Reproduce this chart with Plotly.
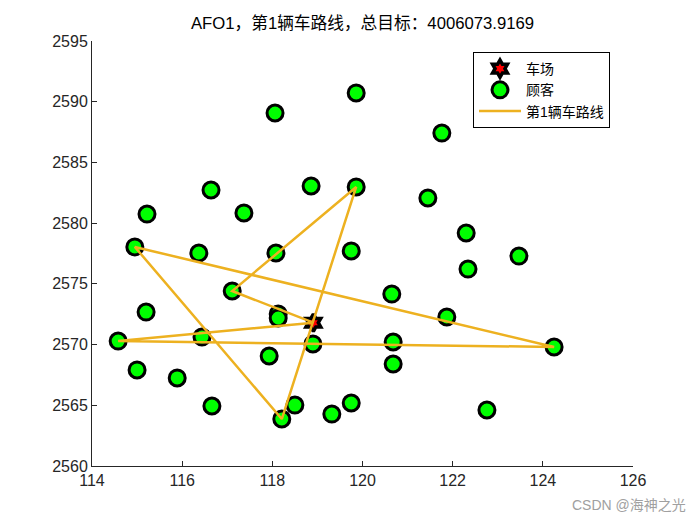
import plotly.graph_objects as go

# Customer coordinates
cust_x = [118.06, 119.86, 121.76, 116.64, 118.86, 119.86, 121.45, 115.22, 117.37, 122.30,
          114.95, 116.37, 118.08, 119.75, 123.47, 122.34, 117.11, 120.65, 115.20, 118.13,
          118.13, 121.87, 114.58, 116.44, 118.90, 120.68, 124.25, 117.93, 120.68, 115.00,
          115.89, 116.66, 118.21, 118.50, 119.32, 119.75, 122.76]
cust_y = [2589.07, 2590.72, 2587.42, 2582.73, 2583.06, 2582.98, 2582.07, 2580.75, 2580.84, 2579.19,
          2578.04, 2577.54, 2577.54, 2577.71, 2577.29, 2576.22, 2574.41, 2574.16, 2572.68, 2572.52,
          2572.19, 2572.27, 2570.29, 2570.62, 2570.05, 2570.21, 2569.80, 2569.06, 2568.40, 2567.91,
          2567.25, 2564.94, 2563.87, 2565.02, 2564.28, 2565.19, 2564.61]

# Depot
depot_x = [118.91]
depot_y = [2571.80]

# Route as customer indices (0-based), starting and ending at depot
route_idx = [16, 5, 32, 10, 26, 22]

route_x = depot_x + [cust_x[i] for i in route_idx] + depot_x
route_y = depot_y + [cust_y[i] for i in route_idx] + depot_y

x_ticks = [114, 116, 118, 120, 122, 124, 126]
y_ticks = [2560, 2565, 2570, 2575, 2580, 2585, 2590, 2595]

FONT = "Liberation Sans, Arial, Noto Sans CJK SC, sans-serif"
AX = "#262626"

fig = go.Figure()
fig.add_trace(go.Scatter(
    x=depot_x, y=depot_y, mode="markers", name="车场",
    marker=dict(symbol="hexagram", size=13, color="red",
                line=dict(color="black", width=3.5)),
))
fig.add_trace(go.Scatter(
    x=cust_x, y=cust_y, mode="markers", name="顾客",
    marker=dict(symbol="circle", size=16, color="#00ff00",
                line=dict(color="black", width=3)),
))
fig.add_trace(go.Scatter(
    x=route_x, y=route_y, mode="lines", name="第1辆车路线",
    line=dict(color="#EDB120", width=2.5),
))

fig.update_layout(
    width=700, height=525,
    margin=dict(l=92, r=67, t=41, b=59),
    paper_bgcolor="white", plot_bgcolor="white",
    font=dict(family=FONT, color=AX, size=16),
    title=dict(text="AFO1，第1辆车路线，总目标：4006073.9169",
               x=(92 + 633) / 2 / 700, xanchor="center",
               y=1 - 23 / 525, yanchor="middle",
               font=dict(size=16.7, color="black", family=FONT)),
    showlegend=True,
    legend=dict(x=(473 - 92) / 541, y=0.974, xanchor="left", yanchor="top",
                bgcolor="white", bordercolor="black", borderwidth=1,
                font=dict(size=14, color="black", family=FONT),
                itemwidth=42, tracegroupgap=0),
    xaxis=dict(range=[114, 126], tickvals=x_ticks, ticks="inside", ticklen=5,
               tickcolor=AX, showline=True, linecolor=AX, linewidth=1,
               showgrid=False, zeroline=False, mirror=False,
               tickfont=dict(size=16, color=AX)),
    yaxis=dict(range=[2560, 2595], tickvals=y_ticks, ticks="inside", ticklen=5,
               tickcolor=AX, showline=True, linecolor=AX, linewidth=1,
               showgrid=False, zeroline=False, mirror=False,
               tickfont=dict(size=16, color=AX)),
    annotations=[dict(text="CSDN @海神之光", xref="paper", yref="paper",
                      x=1.0 + 55 / 541, y=-39 / 425, xanchor="right", yanchor="middle",
                      showarrow=False,
                      font=dict(size=14, color="#a0a0a0", family=FONT))],
)

fig.write_html("out.html")
